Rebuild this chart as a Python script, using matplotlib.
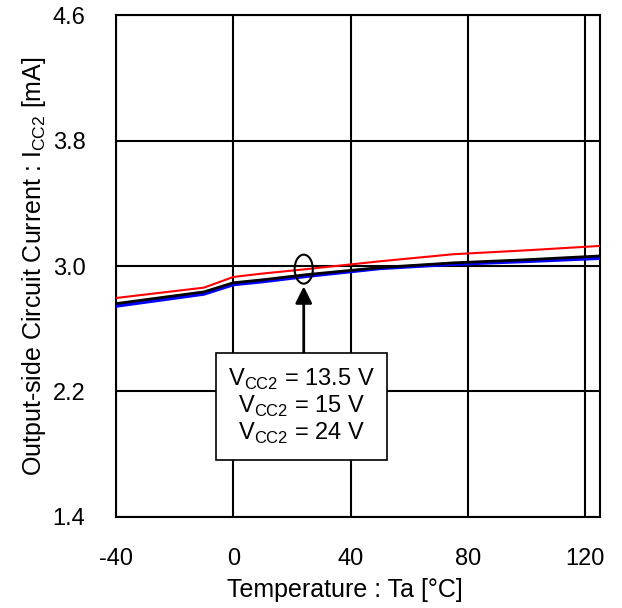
"""
Output-side circuit current vs. temperature -> out.png
"""

import matplotlib
matplotlib.use("Agg")
import matplotlib.pyplot as plt
import matplotlib.patches as mpatches

plt.rcParams["font.family"] = ["Liberation Sans", "DejaVu Sans"]
plt.rcParams["mathtext.fontset"] = "custom"
plt.rcParams["mathtext.rm"] = "Liberation Sans"

# data
TEMPS = [-40, -10, 0, 10, 25, 50, 75, 100, 125]
ICC2_13V5 = [2.760, 2.835, 2.893, 2.912, 2.945, 2.990, 3.020, 3.040, 3.064]
ICC2_15V = [2.745, 2.822, 2.882, 2.901, 2.935, 2.985, 3.012, 3.030, 3.050]
ICC2_24V = [2.796, 2.862, 2.930, 2.952, 2.980, 3.030, 3.075, 3.100, 3.128]

X_TICKS = [-40, 0, 40, 80, 120]
Y_TICKS = [1.4, 2.2, 3.0, 3.8, 4.6]
LEGEND = [r"V$_{\mathregular{CC2}}$ = 13.5 V",
          r"V$_{\mathregular{CC2}}$ = 15 V",
          r"V$_{\mathregular{CC2}}$ = 24 V"]

FS = 17

fig = plt.figure(figsize=(6.22, 6.08), dpi=100)
ax = fig.add_axes([0.1865, 0.1497, 0.7781, 0.8256])
ax.set_xlim(-40, 125)
ax.set_ylim(1.4, 4.6)

ax.set_xticks(X_TICKS)
ax.set_xticklabels([str(t) for t in X_TICKS])
ax.set_yticks(Y_TICKS)
ax.set_yticklabels([f"{t:.1f}" for t in Y_TICKS])
ax.tick_params(length=0, labelsize=FS, pad=22)
ax.grid(True, color="black", linewidth=1.5)
for s in ax.spines.values():
    s.set_linewidth(1.5)

ax.plot(TEMPS, ICC2_15V, color="#0000ff", lw=2.6, zorder=3)
ax.plot(TEMPS, ICC2_13V5, color="black", lw=2.0, zorder=4)
ax.plot(TEMPS, ICC2_24V, color="#ff0000", lw=1.5, zorder=5)

ax.set_xlabel("Temperature : Ta [°C]", fontsize=18)
ax.xaxis.set_label_coords(0.473, -0.121)
ax.set_ylabel(r"Output-side Circuit Current : I$_{\mathregular{CC2}}$ [mA]",
              fontsize=18, labelpad=3)

# marker ellipse + arrow + label box
ax.add_patch(mpatches.Ellipse((24, 2.98), 6.2, 0.185, fill=False,
                              edgecolor="black", lw=1.5, zorder=6))
ax.annotate("", xy=(24, 2.87), xytext=(24, 2.446),
            arrowprops=dict(arrowstyle="-|>", color="black", lw=2,
                            mutation_scale=25, shrinkA=0, shrinkB=0),
            zorder=6)
ax.add_patch(mpatches.Rectangle((-5.9, 1.764), 58.3, 0.682, facecolor="white",
                                edgecolor="black", lw=1.2, zorder=7))
for y, txt in zip([2.28, 2.108, 1.936], LEGEND):
    ax.text(23.2, y, txt, ha="center", va="center", fontsize=FS, zorder=8)

fig.savefig("out.png", dpi=100, facecolor="white")
plt.close(fig)
